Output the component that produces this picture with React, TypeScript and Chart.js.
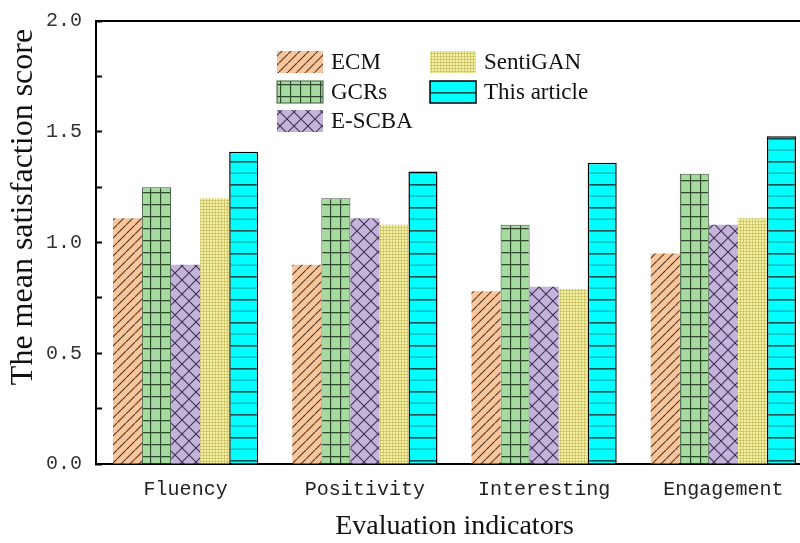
import React, { useEffect, useRef } from "react";
import { Chart, registerables } from "chart.js";

Chart.register(...registerables);

const categories = ["Fluency", "Positivity", "Interesting", "Engagement"];
const seriesNames = ["ECM", "GCRs", "E-SCBA", "SentiGAN", "This article"];
const ecm = [1.11, 0.9, 0.78, 0.95];
const gcrs = [1.25, 1.2, 1.08, 1.31];
const escba = [0.9, 1.11, 0.8, 1.08];
const sentigan = [1.2, 1.08, 0.79, 1.11];
const thisArticle = [1.41, 1.32, 1.36, 1.48];
const yTickValues = [0, 0.25, 0.5, 0.75, 1.0, 1.25, 1.5, 1.75, 2.0];
const yTickLabels = ["0.0", "", "0.5", "", "1.0", "", "1.5", "", "2.0"];
const xTitle = "Evaluation indicators";
const yTitle = "The mean satisfaction score";

type Draw = (c: CanvasRenderingContext2D) => void;

function makePattern(
  main: CanvasRenderingContext2D,
  w: number,
  h: number,
  bg: string,
  draw: Draw
): CanvasPattern | string {
  const c = document.createElement("canvas");
  c.width = w;
  c.height = h;
  const g = c.getContext("2d");
  if (!g) return bg;
  g.fillStyle = bg;
  g.fillRect(0, 0, w, h);
  draw(g);
  return main.createPattern(c, "repeat") || bg;
}

export default function App() {
  const ref = useRef<HTMLCanvasElement | null>(null);

  useEffect(() => {
    const canvas = ref.current;
    if (!canvas) return;
    const ctx = canvas.getContext("2d");
    if (!ctx) return;

    const pECM = makePattern(ctx, 9, 9, "#F9C59B", (g) => {
      g.strokeStyle = "rgba(60,40,25,0.9)";
      g.lineWidth = 1.1;
      g.beginPath();
      g.moveTo(-1, 10);
      g.lineTo(10, -1);
      g.stroke();
    });
    const pGCR = makePattern(ctx, 10, 12, "#A6DBA0", (g) => {
      g.strokeStyle = "rgba(25,45,25,0.85)";
      g.lineWidth = 1.3;
      g.beginPath();
      g.moveTo(0, 0.5);
      g.lineTo(10, 0.5);
      g.moveTo(0.5, 0);
      g.lineTo(0.5, 12);
      g.stroke();
    });
    const pESC = makePattern(ctx, 14, 14, "#C4B3DA", (g) => {
      g.strokeStyle = "rgba(45,35,65,0.9)";
      g.lineWidth = 1.1;
      g.beginPath();
      g.moveTo(0, 0);
      g.lineTo(14, 14);
      g.moveTo(0, 14);
      g.lineTo(14, 0);
      g.stroke();
    });
    const pSEN = makePattern(ctx, 3, 3, "#F4F09E", (g) => {
      g.fillStyle = "rgba(185,175,85,0.55)";
      g.fillRect(2, 0, 1, 3);
      g.fillRect(0, 2, 3, 1);
    });
    const pART = makePattern(ctx, 8, 23, "#00FFFF", (g) => {
      g.fillStyle = "rgba(20,60,60,0.9)";
      g.fillRect(0, 0, 8, 1.6);
      g.fillStyle = "rgba(20,120,120,0.6)";
      g.fillRect(0, 11.5, 8, 1.2);
    });

    const fills = [pECM, pGCR, pESC, pSEN, pART];
    const borders = ["rgba(0,0,0,0)", "#3C5A3C", "rgba(0,0,0,0)", "rgba(0,0,0,0)", "#000000"];
    const bw = [0, 1, 0, 0, 1.5];
    const values = [ecm, gcrs, escba, sentigan, thisArticle];

    const legendPlugin = {
      id: "customLegend",
      afterDraw(chart: Chart) {
        const c = chart.ctx;
        const cols = [277, 430];
        const rows = [51, 81, 110];
        c.save();
        seriesNames.forEach((name, i) => {
          const col = i < 3 ? 0 : 1;
          const row = i < 3 ? i : i - 3;
          const x = cols[col];
          const y = rows[row];
          c.fillStyle = fills[i] as any;
          c.fillRect(x, y, 46, 22);
          if (bw[i] > 0) {
            c.strokeStyle = borders[i];
            c.lineWidth = bw[i];
            c.strokeRect(x, y, 46, 22);
          }
          c.fillStyle = "#111";
          c.font = '23px "Liberation Serif"';
          c.textAlign = "left";
          c.textBaseline = "middle";
          c.fillText(name, x + 54, y + 12);
        });
        c.restore();
      },
    };

    const framePlugin = {
      id: "frame",
      afterDatasetsDraw(chart: Chart) {
        const c = chart.ctx;
        const a = chart.chartArea;
        c.save();
        c.strokeStyle = "#000";
        c.lineWidth = 2;
        c.beginPath();
        c.moveTo(a.left, a.top);
        c.lineTo(a.right, a.top);
        c.lineTo(a.right, a.bottom);
        c.stroke();
        c.restore();
      },
      afterDraw(chart: Chart) {
        const c = chart.ctx;
        c.save();
        c.translate(24, 207);
        c.rotate(-Math.PI / 2);
        c.fillStyle = "#111";
        c.font = '32px "Liberation Serif"';
        c.textAlign = "center";
        c.textBaseline = "middle";
        c.fillText(yTitle, 0, 0);
        c.restore();
      },
    };

    const chart = new Chart(ctx, {
      type: "bar",
      data: {
        labels: categories,
        datasets: seriesNames.map((name, i) => ({
          label: name,
          data: values[i],
          backgroundColor: fills[i] as any,
          borderColor: borders[i],
          borderWidth: bw[i],
          borderSkipped: "bottom",
          categoryPercentage: 0.81,
          barPercentage: 1,
        })),
      },
      options: {
        responsive: false,
        animation: false,
        layout: { padding: { top: 21, right: 7, left: 0, bottom: 0 } },
        plugins: {
          legend: { display: false },
          tooltip: { enabled: false },
        },
        scales: {
          x: {
            grid: { display: false, drawTicks: false },
            border: { display: true, color: "#000", width: 2 },
            ticks: {
              font: { family: "Liberation Mono", size: 20 },
              color: "#222",
              padding: 14,
            },
            title: {
              display: true,
              text: xTitle,
              font: { family: "Liberation Serif", size: 28 },
              color: "#111",
              padding: { top: 0, bottom: 0 },
            },
            afterFit: (s: any) => {
              s.height = 79;
            },
          },
          y: {
            min: 0,
            max: 2,
            afterBuildTicks: (s: any) => {
              s.ticks = yTickValues.map((v) => ({ value: v }));
            },
            ticks: {
              autoSkip: false,
              callback: (_v: any, i: number) => yTickLabels[i],
              font: { family: "Liberation Mono", size: 20 },
              color: "#333",
              padding: 20,
            },
            grid: {
              display: true,
              drawOnChartArea: false,
              drawTicks: true,
              tickLength: -6,
              tickColor: "#000",
              tickWidth: 2,
            },
            border: { display: true, color: "#000", width: 2 },
            afterFit: (s: any) => {
              s.width = 96;
              s.paddingTop = 0;
              s.paddingBottom = 0;
            },
          },
        },
      },
      plugins: [framePlugin, legendPlugin],
    });

    return () => chart.destroy();
  }, []);

  return (
    <div
      style={{
        position: "fixed",
        left: 0,
        top: 0,
        width: 800,
        height: 543,
        overflow: "hidden",
        background: "#fff",
      }}
    >
      <canvas ref={ref} width={820} height={543} style={{ display: "block" }} />
    </div>
  );
}
